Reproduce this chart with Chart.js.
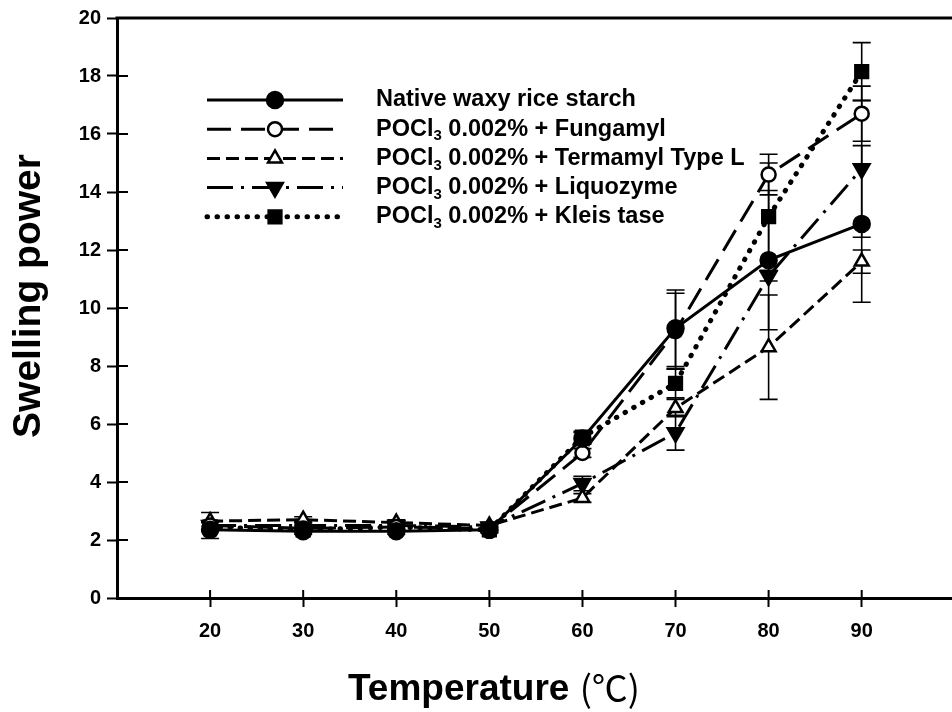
<!DOCTYPE html>
<html>
<head>
<meta charset="utf-8">
<script src="https://cdn.jsdelivr.net/npm/chart.js@4.4.0/dist/chart.umd.min.js"></script>
<style>
  html, body { margin: 0; padding: 0; background: #fff; }
  #wrap { width: 952px; height: 712px; }
</style>
</head>
<body>
<div id="wrap"><canvas id="swellingChart" width="952" height="712"></canvas></div>
<script>
// data
const temps = [20, 30, 40, 50, 60, 70, 80, 90];
const xTickValues = [20, 30, 40, 50, 60, 70, 80, 90];
const yTickValues = [0, 2, 4, 6, 8, 10, 12, 14, 16, 18, 20];

const nativeStarch = [2.35, 2.3, 2.3, 2.35, 5.5, 9.3, 11.65, 12.9];
const nativeErr    = [0.3, 0.1, 0.1, 0.1, 0.2, 1.32, 2.4, 2.7];
const fungamyl     = [2.5, 2.4, 2.45, 2.4, 5.0, 9.2, 14.6, 16.7];
const fungamylErr  = [0.15, 0.1, 0.1, 0.1, 0.15, 1.31, 0.7, 0.95];
const termamyl     = [2.65, 2.7, 2.6, 2.5, 3.45, 6.55, 8.65, 11.6];
const termamylErr  = [0.3, 0.1, 0.1, 0.1, 0.15, 0.3, 1.8, 0.4];
const liquozyme    = [2.5, 2.5, 2.5, 2.45, 3.95, 5.7, 11.1, 14.8];
const liquozymeErr = [0.15, 0.1, 0.1, 0.1, 0.25, 0.6, 0.17, 2.36];
const kleistase    = [2.45, 2.35, 2.45, 2.35, 5.55, 7.4, 13.15, 18.15];
const kleistaseErr = [0.15, 0.1, 0.1, 0.1, 0.2, 0.5, 1.85, 1.0];

const seriesLabels = [
    'Native waxy rice starch',
    'POCl3 0.002% + Fungamyl',
    'POCl3 0.002% + Termamyl Type L',
    'POCl3 0.002% + Liquozyme',
    'POCl3 0.002% + Kleis tase'
];

const FONT = '"Liberation Sans", Arial, sans-serif';
const CJK = '"Noto Sans CJK SC", "Noto Sans CJK JP", sans-serif';

function pts(values) {
    return values.map((v, i) => ({ x: temps[i], y: v }));
}

function makeSet(label, values, errs, style) {
    return Object.assign({
        label: label,
        data: pts(values),
        errors: errs,
        borderColor: '#000',
        borderWidth: 3,
        pointBorderColor: '#000',
        pointBorderWidth: 2.5,
        tension: 0,
        fill: false
    }, style);
}

const datasets = [
    makeSet(seriesLabels[0], nativeStarch, nativeErr, {
        pointStyle: 'circle', pointRadius: 8, pointBackgroundColor: '#000'
    }),
    makeSet(seriesLabels[1], fungamyl, fungamylErr, {
        borderDash: [24, 10], pointStyle: 'circle', pointRadius: 7, pointBackgroundColor: '#fff'
    }),
    makeSet(seriesLabels[2], termamyl, termamylErr, {
        borderDash: [13, 6], pointStyle: 'triangle', pointRadius: 8, pointBackgroundColor: '#fff'
    }),
    makeSet(seriesLabels[3], liquozyme, liquozymeErr, {
        borderDash: [26, 8, 3, 8], pointStyle: 'triangle', pointRotation: 180, pointRadius: 9,
        pointBackgroundColor: '#000'
    }),
    makeSet(seriesLabels[4], kleistase, kleistaseErr, {
        borderDash: [0.5, 9.5], borderCapStyle: 'round', borderWidth: 5,
        pointStyle: 'rect', pointRadius: 9, pointBackgroundColor: '#000'
    })
];

// error bars, drawn under the lines
const errorBars = {
    id: 'errorBars',
    beforeDatasetsDraw(chart) {
        const ctx = chart.ctx;
        const xs = chart.scales.x, ys = chart.scales.y;
        ctx.save();
        ctx.strokeStyle = '#000';
        ctx.lineWidth = 1.6;
        chart.data.datasets.forEach(ds => {
            ds.data.forEach((p, i) => {
                const e = ds.errors[i];
                const px = xs.getPixelForValue(p.x);
                const top = ys.getPixelForValue(p.y + e);
                const bot = ys.getPixelForValue(p.y - e);
                ctx.beginPath();
                ctx.moveTo(px, top); ctx.lineTo(px, bot);
                ctx.moveTo(px - 9, top); ctx.lineTo(px + 9, top);
                ctx.moveTo(px - 9, bot); ctx.lineTo(px + 9, bot);
                ctx.stroke();
            });
        });
        ctx.restore();
    }
};

function drawLabel(ctx, text, x, y) {
    const big = 'bold 23.5px ' + FONT;
    if (text.startsWith('POCl3')) {
        ctx.font = big;
        ctx.fillText('POCl', x, y);
        let w = ctx.measureText('POCl').width;
        ctx.font = 'bold 15px ' + FONT;
        ctx.fillText('3', x + w, y + 7);
        w += ctx.measureText('3').width;
        ctx.font = big;
        ctx.fillText(text.slice(5), x + w, y);
    } else {
        ctx.font = big;
        ctx.fillText(text, x, y);
    }
}

// legend, titles, top frame line and inner tick halves
const decorations = {
    id: 'decorations',
    afterDraw(chart) {
        const ctx = chart.ctx;
        const area = chart.chartArea;
        const xs = chart.scales.x, ys = chart.scales.y;
        ctx.save();
        ctx.strokeStyle = '#000';
        ctx.fillStyle = '#000';

        // top frame line
        ctx.lineWidth = 3;
        ctx.beginPath();
        ctx.moveTo(area.left - 1.5, area.top);
        ctx.lineTo(area.right, area.top);
        ctx.stroke();

        // ticks crossing into the plot
        ctx.lineWidth = 2;
        ctx.beginPath();
        yTickValues.forEach(v => {
            const py = ys.getPixelForValue(v);
            ctx.moveTo(area.left, py); ctx.lineTo(area.left + 11, py);
        });
        xTickValues.forEach(v => {
            const px = xs.getPixelForValue(v);
            ctx.moveTo(px, area.bottom); ctx.lineTo(px, area.bottom - 8);
        });
        ctx.stroke();

        // legend
        const lx0 = area.left + 90, lx1 = area.left + 226, tx = area.left + 259;
        chart.data.datasets.forEach((ds, i) => {
            const y = area.top + 82 + i * 29.2;
            ctx.save();
            ctx.lineWidth = ds.borderWidth;
            ctx.lineCap = ds.borderCapStyle || 'butt';
            ctx.setLineDash(ds.borderDash || []);
            ctx.beginPath();
            ctx.moveTo(lx0, y); ctx.lineTo(lx1, y);
            ctx.stroke();
            ctx.restore();
            ctx.save();
            ctx.fillStyle = ds.pointBackgroundColor;
            ctx.strokeStyle = '#000';
            ctx.lineWidth = ds.pointBorderWidth;
            Chart.helpers.drawPoint(ctx, {
                pointStyle: ds.pointStyle,
                radius: ds.pointRadius,
                rotation: ds.pointRotation || 0,
                borderWidth: ds.pointBorderWidth
            }, (lx0 + lx1) / 2, y);
            ctx.restore();
            ctx.textBaseline = 'middle';
            ctx.textAlign = 'left';
            drawLabel(ctx, ds.label, tx, y);
        });

        // x title: bold word, then the degree sign part in a CJK face
        ctx.textAlign = 'left';
        ctx.textBaseline = 'alphabetic';
        const word = 'Temperature ';
        const unit = '(\u2103)';
        ctx.font = 'bold 37px ' + FONT;
        const w1 = ctx.measureText(word).width;
        ctx.font = '36px ' + CJK;
        const w2 = ctx.measureText(unit).width;
        const sx = area.left + 377 - (w1 + w2) / 2;
        const by = area.bottom + 102;
        ctx.font = 'bold 37px ' + FONT;
        ctx.fillText(word, sx, by);
        ctx.font = '36px ' + CJK;
        ctx.fillText(unit, sx + w1, by + 2);

        // y title
        ctx.save();
        ctx.textAlign = 'center';
        ctx.translate(40, (area.top + area.bottom) / 2 - 12);
        ctx.rotate(-Math.PI / 2);
        ctx.font = 'bold 39px ' + FONT;
        ctx.fillText('Swelling power', 0, 0);
        ctx.restore();
        ctx.restore();
    }
};

new Chart(document.getElementById('swellingChart').getContext('2d'), {
    type: 'line',
    data: { datasets: datasets },
    options: {
        responsive: false,
        animation: false,
        devicePixelRatio: 1,
        layout: { autoPadding: false, padding: { top: 16, right: 0, left: 0, bottom: 0 } },
        plugins: { legend: { display: false }, tooltip: { enabled: false } },
        scales: {
            x: {
                type: 'linear',
                min: 10,
                max: 99.7,
                afterBuildTicks: axis => { axis.ticks = xTickValues.map(v => ({ value: v })); },
                afterFit: axis => {
                    axis.height = 114;
                    axis.paddingLeft = 0;
                    axis.paddingRight = 0;
                },
                border: { display: true, color: '#000', width: 3 },
                grid: { drawOnChartArea: false, color: '#000', tickLength: 9, tickWidth: 2 },
                ticks: { color: '#000', padding: 12, font: { family: FONT, size: 20, weight: 'bold' } }
            },
            y: {
                type: 'linear',
                min: 0,
                max: 20,
                afterBuildTicks: axis => { axis.ticks = yTickValues.map(v => ({ value: v })); },
                afterFit: axis => { axis.width = 117; },
                border: { display: true, color: '#000', width: 3 },
                grid: { drawOnChartArea: false, color: '#000', tickLength: 10, tickWidth: 2 },
                ticks: { color: '#000', padding: 6, font: { family: FONT, size: 20, weight: 'bold' } }
            }
        }
    },
    plugins: [errorBars, decorations]
});
</script>
</body>
</html>
